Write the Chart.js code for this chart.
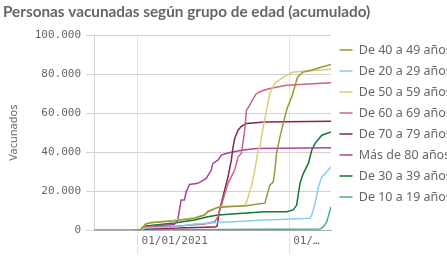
<!DOCTYPE html>
<html>
<head>
<meta charset="utf-8">
<script src="https://cdn.jsdelivr.net/npm/chart.js@4.4.1/dist/chart.umd.min.js"></script>
<style>
  html, body { margin: 0; padding: 0; background: #fff; }
  #wrap { width: 447px; height: 259px; position: relative; overflow: hidden; }
</style>
</head>
<body>
<div id="wrap"><canvas id="chart"></canvas></div>
<script>
// Days counted from 01/01/2021
const xTickDays = [0, 181];
const xTickLabels = ['01/01/2021', '01/…'];
const yTicks = [0, 20000, 40000, 60000, 80000, 100000];

const grupos = ['De 40 a 49 años', 'De 20 a 29 años', 'De 50 a 59 años', 'De 60 a 69 años',
                'De 70 a 79 años', 'Más de 80 años', 'De 30 a 39 años', 'De 10 a 19 años'];
const colores = ['#999933', '#88ccee', '#ddcc77', '#cc6677', '#882255', '#aa4499', '#117733', '#44aa99'];

const dias40 = [-52, 3, 10, 16, 44, 68, 80, 84, 96, 108, 130, 146, 152, 154, 158, 162, 164, 166, 170, 174, 179, 184, 191, 197, 207, 219, 231];
const vac40  = [0, 0, 3100, 3700, 4800, 6000, 7700, 9400, 11600, 12000, 12400, 13500, 13800, 16900, 23000, 24600, 30800, 39500, 47700, 54900, 63100, 68200, 78500, 81000, 82100, 83600, 85100];

const dias20 = [3, 10, 48, 68, 92, 152, 206, 208, 212, 216, 220, 226, 231];
const vac20  = [0, 1000, 1700, 3100, 3700, 5100, 6000, 7700, 13700, 22200, 27300, 29900, 32500];

const dias50 = [3, 10, 16, 44, 68, 80, 84, 96, 108, 128, 131, 137, 140, 144, 146, 150, 154, 158, 164, 174, 185, 198, 231];
const vac50  = [0, 3300, 3900, 5000, 6300, 7900, 9700, 11800, 12200, 12400, 15400, 24100, 30800, 41000, 42600, 52800, 61500, 70300, 75400, 78500, 81000, 81500, 82600];

const dias60 = [3, 10, 48, 80, 92, 96, 102, 108, 116, 120, 124, 128, 130, 134, 138, 142, 148, 158, 178, 231];
const vac60  = [0, 1500, 2100, 3100, 4200, 6800, 15400, 24000, 30800, 37600, 39300, 51300, 61500, 64100, 67500, 70100, 71400, 72700, 74400, 75700];

const dias70 = [3, 10, 48, 92, 95, 98, 104, 108, 112, 114, 116, 120, 124, 130, 152, 231];
const vac70  = [0, 500, 1000, 1500, 2000, 10300, 20500, 27300, 35900, 42500, 47000, 51300, 53300, 54700, 55500, 55900];

const dias80 = [3, 10, 44, 48, 52, 56, 58, 60, 62, 72, 82, 88, 90, 96, 100, 108, 124, 142, 231];
const vac80  = [0, 1700, 3000, 5100, 15400, 15400, 19600, 21400, 23400, 24000, 26500, 30800, 34200, 35900, 38500, 39600, 41000, 41900, 42300];

const dias30 = [3, 10, 44, 68, 84, 96, 152, 178, 186, 190, 194, 198, 204, 208, 212, 220, 231];
const vac30  = [0, 2100, 3600, 5100, 6800, 7700, 9400, 9400, 10300, 12800, 24000, 29100, 34200, 41000, 44500, 48700, 50400];

const dias10 = [-5, 218, 222, 226, 231];
const vac10  = [0, 500, 1700, 4300, 12000];

const series = [
    [dias40, vac40], [dias20, vac20], [dias50, vac50], [dias60, vac60],
    [dias70, vac70], [dias80, vac80], [dias30, vac30], [dias10, vac10]
];

const fmt = (v) => new Intl.NumberFormat('de-DE').format(v);
const grey = '#666666';

Chart.defaults.font.family = '"Noto Sans", sans-serif';
Chart.defaults.color = grey;

const datasets = series.map(([dias, vals], i) => ({
    label: grupos[i],
    data: dias.map((d, j) => ({ x: d, y: vals[j] })),
    borderColor: colores[i],
    backgroundColor: colores[i],
    borderWidth: 1.5,
    pointRadius: 0,
    tension: 0,
    fill: false
}));

new Chart(document.getElementById('chart'), {
    type: 'line',
    data: { datasets },
    options: {
        responsive: true,
        maintainAspectRatio: false,
        animation: false,
        layout: { padding: { left: 3, right: 0, top: 0, bottom: 0 } },
        plugins: {
            tooltip: { enabled: false },
            title: {
                display: true,
                text: 'Personas vacunadas según grupo de edad (acumulado)',
                align: 'start',
                color: grey,
                font: { family: 'Lato, sans-serif', size: 15.3, weight: 'bold' },
                padding: { top: 3, bottom: 14 }
            },
            legend: {
                position: 'right',
                align: 'start',
                fullSize: false,
                maxWidth: 116,
                labels: {
                    usePointStyle: true,
                    pointStyle: 'line',
                    pointStyleWidth: 13,
                    padding: 8.5,
                    color: grey,
                    font: { size: 12.5 }
                }
            }
        },
        scales: {
            x: {
                type: 'linear',
                min: -52,
                max: 231,
                afterBuildTicks: (scale) => { scale.ticks = xTickDays.map(v => ({ value: v })); },
                afterFit: (scale) => { scale.height = 29; },
                grid: { color: '#e3e3e3', drawTicks: true, tickLength: 24 },
                border: { color: '#aaaaaa' },
                ticks: {
                    align: 'start',
                    padding: -19,
                    labelOffset: 4,
                    maxRotation: 0,
                    autoSkip: false,
                    font: { family: '"DejaVu Sans Mono", monospace', size: 11 },
                    color: grey,
                    callback: (v) => xTickLabels[xTickDays.indexOf(v)]
                }
            },
            y: {
                min: 0,
                max: 100000,
                afterBuildTicks: (scale) => { scale.ticks = yTicks.map(v => ({ value: v })); },
                afterFit: (scale) => { scale.width = 91; },
                grid: { color: '#d2d2d2', tickLength: 8 },
                border: { color: '#d2d2d2' },
                title: {
                    display: true,
                    text: 'Vacunados',
                    color: grey,
                    font: { size: 11 },
                    padding: { top: 4, bottom: 0 }
                },
                ticks: {
                    padding: 5,
                    font: { family: '"DejaVu Sans Mono", monospace', size: 11 },
                    color: grey,
                    callback: (v) => fmt(v)
                }
            }
        }
    }
});
</script>
</body>
</html>
